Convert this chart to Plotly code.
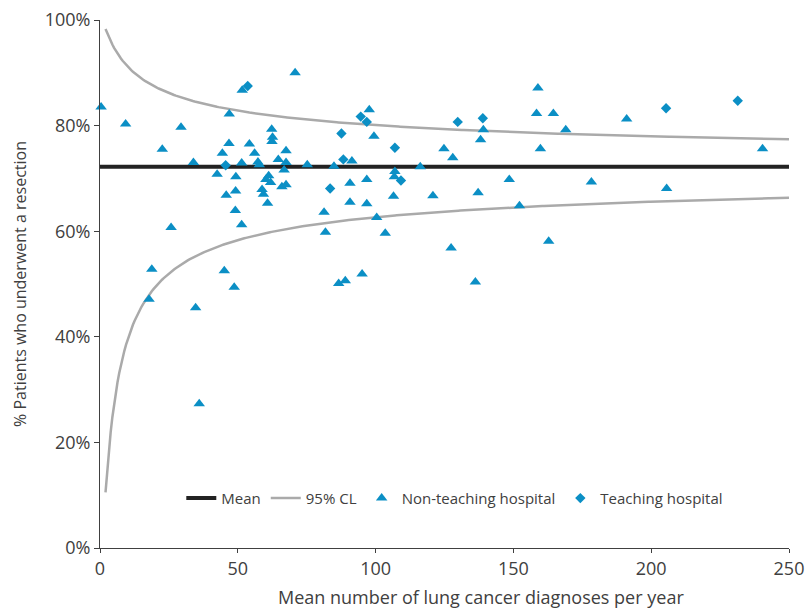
import numpy as np
import plotly.graph_objects as go

# Non-teaching hospitals: mean diagnoses per year, % resected
nt_x = [0.4, 9.3, 29.4, 22.6, 33.9, 46.9, 46.8, 44.4, 42.5, 49.3, 51.4, 51.6,
        45.8, 49.2, 49.1, 51.4, 25.8, 18.8, 45.1, 48.7, 17.8, 34.7, 36.0,
        70.8, 97.7, 99.4, 62.3, 62.6, 62.4, 54.2, 56.1, 67.5, 57.3, 57.8, 64.7, 67.5, 66.8, 75.2, 84.9, 91.4, 61.2, 96.8,
        60.2, 61.9, 58.8, 59.3, 60.8, 66.0, 67.5, 90.7, 90.7, 96.8, 81.3, 81.8, 100.4, 95.1, 89.0, 86.6,
        139.1, 138.1, 124.8, 128.0, 116.2, 107.0, 106.8, 148.5, 106.5, 120.8, 137.2,
        103.5, 127.4, 136.2, 152.2,
        158.9, 158.4, 164.5, 191.1, 169.0, 159.8, 178.3, 162.8,
        240.4, 205.6]
nt_y = [83.5, 80.3, 79.7, 75.5, 73.0, 82.2, 76.6, 74.75, 70.8, 70.3, 72.9, 86.7,
        66.8, 67.6, 63.9, 61.2, 60.7, 52.8, 52.5, 49.4, 47.1, 45.5, 27.3,
        90.0, 83.0, 78.0, 79.3, 77.8, 77.0, 76.5, 74.75, 75.25, 73.1, 72.6, 73.6, 73.0, 71.6, 72.6, 72.3, 73.3, 70.5, 69.8,
        69.8, 69.2, 67.9, 67.0, 65.3, 68.4, 68.8, 69.1, 65.5, 65.2, 63.6, 59.8, 62.6, 51.9, 50.6, 50.1,
        79.2, 77.3, 75.6, 73.9, 72.2, 71.3, 70.3, 69.8, 66.6, 66.7, 67.3,
        59.6, 56.8, 50.4, 64.8,
        87.1, 82.3, 82.3, 81.25, 79.2, 75.6, 69.3, 58.1,
        75.6, 68.1]

# Teaching hospitals
t_x = [45.6, 53.6, 94.6, 96.8, 87.6, 88.3, 83.5, 129.8, 138.9, 107.0, 109.2, 205.4, 231.4]
t_y = [72.5, 87.5, 81.7, 80.7, 78.5, 73.6, 68.1, 80.7, 81.4, 75.8, 69.6, 83.3, 84.7]

mean_pct = 72.2
x_range = [0, 250]
y_ticks = [0, 20, 40, 60, 80, 100]
y_tick_labels = ["0%", "20%", "40%", "60%", "80%", "100%"]
x_ticks = [0, 50, 100, 150, 200, 250]
x_tick_labels = ["0", "50", "100", "150", "200", "250"]

# 95% control limits (logit scale) around the mean, n = diagnoses per year
n = np.linspace(2, 250, 400)
p0 = mean_pct / 100
lg = np.log(p0 / (1 - p0))
se = 1.96 / np.sqrt(n * p0 * (1 - p0))
upper = 100 / (1 + np.exp(-(lg + se)))
lower = 100 / (1 + np.exp(-(lg - se)))

blue = "#0b8fc5"
fig = go.Figure()
fig.add_trace(go.Scatter(x=x_range, y=[mean_pct, mean_pct], mode="lines",
                         line=dict(color="#222222", width=4), name="Mean"))
fig.add_trace(go.Scatter(x=n, y=upper, mode="lines",
                         line=dict(color="#aaaaaa", width=2.5), name="95% CL"))
fig.add_trace(go.Scatter(x=n, y=lower, mode="lines",
                         line=dict(color="#aaaaaa", width=2.5), name="95% CL", showlegend=False))
fig.add_trace(go.Scatter(x=nt_x, y=nt_y, mode="markers", name="Non-teaching hospital",
                         marker=dict(symbol="triangle-up", size=10, color=blue)))
fig.add_trace(go.Scatter(x=t_x, y=t_y, mode="markers", name="Teaching hospital",
                         marker=dict(symbol="diamond", size=8, color=blue)))

font_fam = "Open Sans, Noto Sans, sans-serif"
fig.update_layout(
    width=810, height=608,
    margin=dict(l=100, r=21, t=20, b=60, autoexpand=False),
    paper_bgcolor="white", plot_bgcolor="white",
    font=dict(family=font_fam, size=16, color="#404040"),
    legend=dict(orientation="h", x=0.118, y=0.094, xanchor="left", yanchor="middle",
                font=dict(size=15, color="#404040"), bgcolor="rgba(0,0,0,0)",
                itemwidth=30, tracegroupgap=0),
    showlegend=True,
    annotations=[dict(text="Mean number of lung cancer diagnoses per year",
                      xref="paper", yref="paper", x=0.553, y=-0.093,
                      xanchor="center", yanchor="middle", showarrow=False,
                      font=dict(size=18, color="#404040"))],
)
fig.update_xaxes(range=x_range, tickvals=x_ticks, ticktext=x_tick_labels, automargin=False,
                 showgrid=False, zeroline=False,
                 showline=True, linecolor="#404040", linewidth=1,
                 ticks="outside", ticklen=4, tickcolor="#404040", tickfont=dict(size=18))
fig.update_yaxes(range=[0, 100], tickvals=y_ticks, ticktext=y_tick_labels, automargin=False,
                 showgrid=False, zeroline=False,
                 showline=True, linecolor="#404040", linewidth=1,
                 ticks="outside", ticklen=5, tickcolor="#404040", tickfont=dict(size=18),
                 title=dict(text="% Patients who underwent a resection", standoff=14,
                            font=dict(size=16)))
for tr in fig.data:
    tr.cliponaxis = False

fig.write_html("out.html")
